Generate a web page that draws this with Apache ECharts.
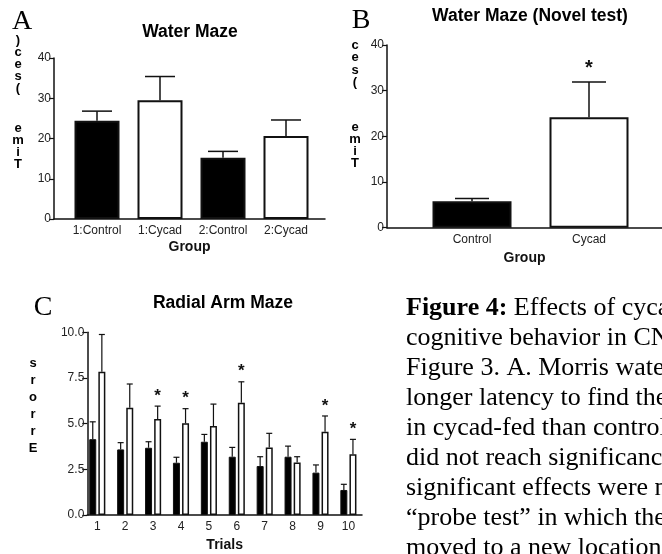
<!DOCTYPE html>
<html>
<head>
<meta charset="utf-8">
<script src="https://cdn.jsdelivr.net/npm/echarts@6/dist/echarts.min.js"></script>
<style>
  html, body { margin: 0; padding: 0; background: #fff; }
  #chart { width: 662px; height: 554px; }
</style>
</head>
<body>
<div id="chart"></div>
<script>
// A: Water Maze
const groupsA = ['1:Control', '1:Cycad', '2:Control', '2:Cycad'];
const meanA = [24.4, 29.5, 15.2, 20.6];
const semA = [2.4, 5.9, 1.6, 4.0];
const yTicksA = [0, 40, 10];

// B: Water Maze (Novel test)
const groupsB = ['Control', 'Cycad'];
const meanB = [5.8, 24.2];
const semB = [0.6, 7.7];
const sigB = [false, true];
const yTicksB = [0, 40, 10];

// C: Radial Arm Maze
const trials = ['1', '2', '3', '4', '5', '6', '7', '8', '9', '10'];
const controlC = [4.15, 3.59, 3.68, 2.86, 4.01, 3.19, 2.68, 3.19, 2.32, 1.37];
const controlSemC = [0.95, 0.37, 0.33, 0.30, 0.40, 0.51, 0.51, 0.58, 0.42, 0.31];
const cycadC = [7.84, 5.87, 5.25, 5.02, 4.87, 6.14, 3.70, 2.88, 4.56, 3.32];
const cycadSemC = [2.04, 1.30, 0.71, 0.80, 1.20, 1.15, 0.77, 0.31, 0.86, 0.82];
const sigC = [false, false, true, true, false, true, false, false, true, true];
const yTicksC = [0, 10, 2.5];

const captionLines = [
  'Effects of cycad',
  'cognitive behavior in CN',
  'Figure 3. A. Morris water',
  'longer latency to find the',
  'in cycad-fed than control',
  'did not reach significance',
  'significant effects were n',
  '\u201cprobe test\u201d in which the',
  'moved to a new location'
];

const sans = '"Liberation Sans", Arial, Helvetica, sans-serif';
const serif = '"Liberation Serif", "Times New Roman", serif';
const ink = '#111';

const chart = echarts.init(document.getElementById('chart'));

// 误差线 + 星号
function errRender (offset, cap, lw, starSize, starGap) {
  return function (params, api) {
    const idx = api.value(0);
    const x = api.coord([idx, 0])[0] + offset;
    const yLow = api.coord([idx, api.value(1)])[1];
    const yHigh = api.coord([idx, api.value(2)])[1];
    const st = { stroke: ink, lineWidth: lw };
    const children = [
      { type: 'line', shape: { x1: x, y1: yLow, x2: x, y2: yHigh }, style: st },
      { type: 'line', shape: { x1: x - cap / 2, y1: yHigh, x2: x + cap / 2, y2: yHigh }, style: st }
    ];
    if (api.value(3)) {
      children.push({
        type: 'text',
        style: {
          text: '*', x: x, y: yHigh - starGap,
          align: 'center', verticalAlign: 'middle',
          fontFamily: sans, fontWeight: 'bold', fontSize: starSize, fill: ink
        }
      });
    }
    return { type: 'group', children: children };
  };
}

function errData (mean, sem, sig) {
  return mean.map((m, i) => [i, m, +(m + sem[i]).toFixed(2), sig && sig[i] ? 1 : 0]);
}

function frameX (grid, name, gap) {
  return {
    gridIndex: grid, type: 'value', min: 0, max: 1,
    axisLine: { show: true, lineStyle: { color: ink, width: 1.5 } },
    axisTick: { show: false }, axisLabel: { show: false }, splitLine: { show: false },
    name: name, nameLocation: 'middle', nameGap: gap,
    nameTextStyle: { fontFamily: sans, fontWeight: 'bold', fontSize: 14, color: ink }
  };
}
function frameY (grid, ticks, fs, fmt) {
  return {
    gridIndex: grid, type: 'value', min: ticks[0], max: ticks[1], interval: ticks[2],
    axisLine: { show: true, lineStyle: { color: ink, width: 1.5 } },
    axisTick: { show: true, length: 5, lineStyle: { color: ink, width: 1.2 } },
    axisLabel: { fontFamily: sans, fontSize: fs, color: '#222', margin: 3, formatter: fmt },
    splitLine: { show: false }
  };
}
function barX (grid, cats, fs) {
  return {
    gridIndex: grid, type: 'category', data: cats,
    axisLine: { show: false }, axisTick: { show: false },
    axisLabel: { fontFamily: sans, fontSize: fs, color: '#222', margin: 6, interval: 0 }
  };
}
function barY (grid, ticks) {
  return { gridIndex: grid, type: 'value', min: ticks[0], max: ticks[1], show: false };
}

function fillFor (name) {
  return name.indexOf('Control') >= 0 ? '#000' : '#fff';
}

const graphics = [];
function addText (text, x, y, font, extra) {
  graphics.push({
    type: 'text', x: x, y: y,
    style: Object.assign({ text: text, font: font, fill: '#000', align: 'center', verticalAlign: 'middle' }, extra || {})
  });
}
// 面板字母
addText('A', 22, 22, '28px ' + serif);
addText('B', 361, 21, '28px ' + serif);
addText('C', 43, 308, '28px ' + serif);
// 标题
addText('Water Maze', 190, 32, 'bold 17.5px ' + sans);
addText('Water Maze (Novel test)', 530, 16, 'bold 17.5px ' + sans);
addText('Radial Arm Maze', 223, 303, 'bold 17.5px ' + sans);
// 竖排 y 轴标题
addText(')\nc\ne\ns\n(', 18, 64, 'bold 13px ' + sans, { lineHeight: 12 });
addText('e\nm\ni\nT', 18, 146, 'bold 13px ' + sans, { lineHeight: 12 });
addText('c\ne\ns\n(', 355, 64, 'bold 13px ' + sans, { lineHeight: 12.5 });
addText('e\nm\ni\nT', 355, 145, 'bold 13px ' + sans, { lineHeight: 12 });
addText('s\nr\no\nr\nr\nE', 33, 406, 'bold 13px ' + sans, { lineHeight: 17 });
// 图注
captionLines.forEach((line, i) => {
  graphics.push({
    type: 'text', x: 406, y: 308 + i * 30,
    style: {
      text: i === 0 ? '{b|Figure 4:} ' + line : line,
      fontFamily: serif, fontSize: 26, fill: '#000',
      align: 'left', verticalAlign: 'middle',
      rich: { b: { fontFamily: serif, fontSize: 26, fontWeight: 'bold', fill: '#000' } }
    }
  });
});

const barWC = 7;
const gapC = 0.3;
const offC = barWC * (1 + gapC) / 2;

const option = {
  backgroundColor: '#fff',
  animation: false,
  grid: [
    { left: 54, top: 58, width: 271, height: 161 },
    { left: 65.5, top: 58, width: 252, height: 161 },
    { left: 387, top: 45, width: 280, height: 182.7 },
    { left: 413.5, top: 45, width: 234, height: 182.7 },
    { left: 87.3, top: 332.3, width: 274.7, height: 182.7 },
    { left: 83.35, top: 332.3, width: 279, height: 182.7 }
  ],
  xAxis: [
    frameX(0, 'Group', 21),
    barX(1, groupsA, 12),
    frameX(2, 'Group', 23),
    barX(3, groupsB, 12),
    frameX(4, 'Trials', 23),
    barX(5, trials, 12)
  ],
  yAxis: [
    frameY(0, yTicksA, 12),
    barY(1, yTicksA),
    frameY(2, yTicksB, 12),
    barY(3, yTicksB),
    frameY(4, yTicksC, 12, v => v.toFixed(1)),
    barY(5, yTicksC)
  ],
  series: [
    {
      type: 'bar', xAxisIndex: 1, yAxisIndex: 1, barWidth: 45,
      data: meanA.map((v, i) => ({ value: v, itemStyle: { color: fillFor(groupsA[i]) } })),
      itemStyle: { borderColor: ink, borderWidth: 2 }
    },
    {
      type: 'custom', xAxisIndex: 1, yAxisIndex: 1, z: 5,
      renderItem: errRender(0, 30, 1.5, 18, 12),
      data: errData(meanA, semA)
    },
    {
      type: 'bar', xAxisIndex: 3, yAxisIndex: 3, barWidth: 79,
      data: meanB.map((v, i) => ({ value: v, itemStyle: { color: fillFor(groupsB[i]) } })),
      itemStyle: { borderColor: ink, borderWidth: 2 }
    },
    {
      type: 'custom', xAxisIndex: 3, yAxisIndex: 3, z: 5,
      renderItem: errRender(0, 34, 1.5, 20, 14),
      data: errData(meanB, semB, sigB)
    },
    {
      name: 'Control', type: 'bar', xAxisIndex: 5, yAxisIndex: 5,
      barWidth: barWC, barGap: (gapC * 100) + '%',
      data: controlC,
      itemStyle: { color: '#000', borderColor: ink, borderWidth: 1 }
    },
    {
      name: 'Cycad', type: 'bar', xAxisIndex: 5, yAxisIndex: 5,
      barWidth: barWC, barGap: (gapC * 100) + '%',
      data: cycadC,
      itemStyle: { color: '#fff', borderColor: ink, borderWidth: 1.5 }
    },
    {
      type: 'custom', xAxisIndex: 5, yAxisIndex: 5, z: 5,
      renderItem: errRender(-offC, 6, 1.2, 17, 10),
      data: errData(controlC, controlSemC)
    },
    {
      type: 'custom', xAxisIndex: 5, yAxisIndex: 5, z: 5,
      renderItem: errRender(offC, 6, 1.2, 17, 10),
      data: errData(cycadC, cycadSemC, sigC)
    }
  ],
  graphic: graphics
};

chart.setOption(option);
</script>
</body>
</html>
